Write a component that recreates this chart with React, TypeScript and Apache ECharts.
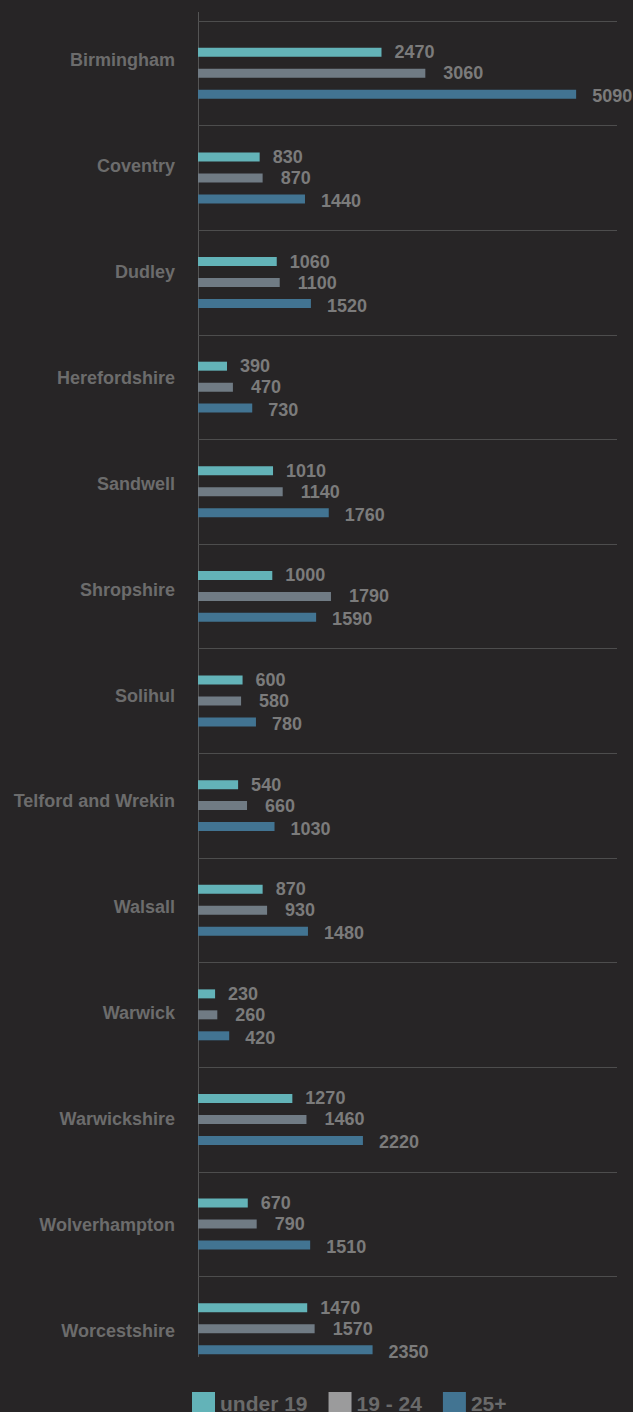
import React, { useEffect, useRef } from "react";
import * as echarts from "echarts";

const categories = [
  "Birmingham",
  "Coventry",
  "Dudley",
  "Herefordshire",
  "Sandwell",
  "Shropshire",
  "Solihul",
  "Telford and Wrekin",
  "Walsall",
  "Warwick",
  "Warwickshire",
  "Wolverhampton",
  "Worcestshire",
];

const under19 = [2470, 830, 1060, 390, 1010, 1000, 600, 540, 870, 230, 1270, 670, 1470];
const age19to24 = [3060, 870, 1100, 470, 1140, 1790, 580, 660, 930, 260, 1460, 790, 1570];
const age25plus = [5090, 1440, 1520, 730, 1760, 1590, 780, 1030, 1480, 420, 2220, 1510, 2350];

const seriesNames = ["under 19", "19 - 24", "25+"];
const barColors = ["#63b3b8", "#707b84", "#427492"];
const legendColors = ["#63b3b8", "#9b9b9c", "#427492"];

const FONT = "'Liberation Sans', Arial, Helvetica, sans-serif";

export default function App() {
  const ref = useRef<HTMLDivElement>(null);

  useEffect(() => {
    document.body.style.margin = "0";
    document.body.style.background = "#272526";
    if (!ref.current) return;
    const chart = echarts.init(ref.current, undefined, { renderer: "svg" });

    const valueLabel = (dist: number, offY: number) => ({
      show: true,
      position: "right" as const,
      distance: dist,
      offset: [0, offY],
      color: "#7b7b7b",
      fontFamily: FONT,
      fontWeight: "bold" as const,
      fontSize: 18,
    });

    const data = [under19, age19to24, age25plus];
    const dists = [13, 18, 16];
    const offs = [0, 0, 2];

    chart.setOption({
      animation: false,
      backgroundColor: "#272526",
      textStyle: { fontFamily: FONT },
      grid: [
        { left: 198, right: 16, top: 21, bottom: 31, containLabel: false },
        { left: 198, right: 16, top: 7, bottom: 28, containLabel: false },
      ],
      xAxis: [
        { type: "value", gridIndex: 0, min: 0, max: 5640, show: false },
        { type: "value", gridIndex: 1, min: 0, max: 5640, show: false },
      ],
      yAxis: [
        {
          type: "category",
          gridIndex: 0,
          data: categories,
          inverse: true,
          axisLine: { show: false },
          axisTick: { show: false },
          axisLabel: { show: false },
          splitLine: {
            show: true,
            showMaxLine: false,
            lineStyle: { color: "#4d4d4d", width: 1 },
          },
        },
        {
          type: "category",
          gridIndex: 1,
          data: categories,
          inverse: true,
          axisLine: { show: false },
          axisTick: { show: false },
          splitLine: { show: false },
          axisLabel: {
            show: true,
            margin: 23,
            color: "#6c6c6c",
            fontFamily: FONT,
            fontWeight: "bold",
            fontSize: 18,
          },
        },
      ],
      legend: {
        left: 192,
        top: 1392,
        padding: 0,
        itemWidth: 23,
        itemHeight: 23,
        itemGap: 21,
        icon: "rect",
        textStyle: {
          color: "#6a6a6a",
          fontFamily: FONT,
          fontWeight: "bold",
          fontSize: 21,
        },
        data: seriesNames.map((n, i) => ({
          name: n,
          itemStyle: { color: legendColors[i] },
        })),
      },
      graphic: [
        {
          type: "line",
          shape: { x1: 198.5, y1: 12, x2: 198.5, y2: 1357 },
          style: { stroke: "#545454", lineWidth: 1 },
          silent: true,
        },
      ],
      series: seriesNames.map((n, i) => ({
        name: n,
        type: "bar",
        xAxisIndex: 0,
        yAxisIndex: 0,
        data: data[i],
        barWidth: 9,
        barGap: "133%",
        itemStyle: { color: barColors[i] },
        label: valueLabel(dists[i], offs[i]),
      })),
    });

    return () => chart.dispose();
  }, []);

  return <div ref={ref} style={{ width: 633, height: 1412 }} />;
}
